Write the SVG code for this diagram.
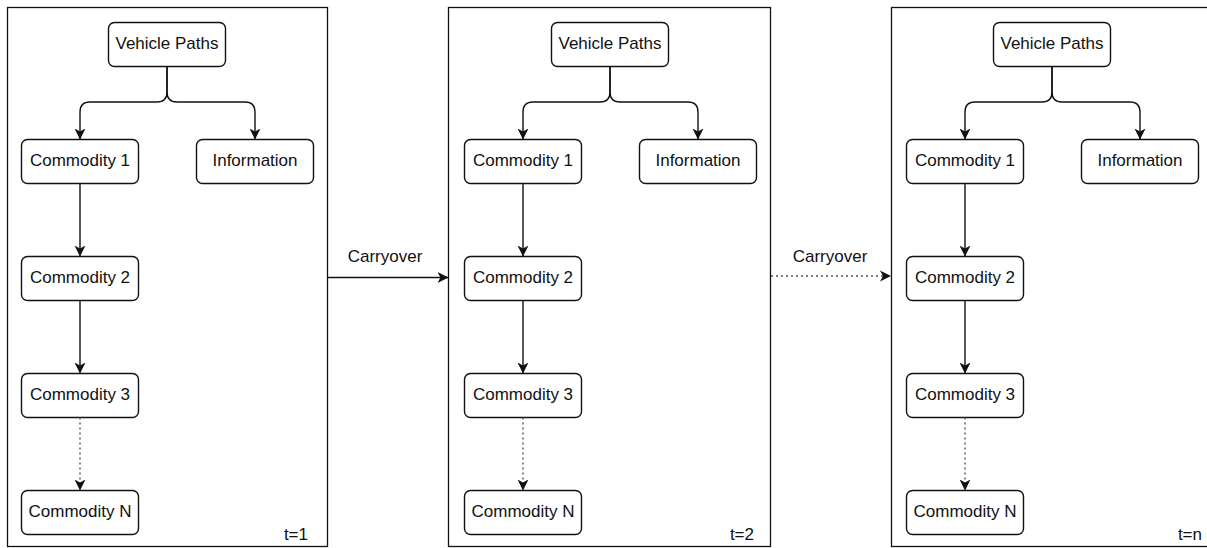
<svg xmlns="http://www.w3.org/2000/svg" width="1207" height="548" viewBox="0 0 1207 548">
  <defs>
    <style>
      .frame { fill: #fff; stroke: #111; stroke-width: 1.3; }
      .node rect { fill: #fff; stroke: #111; stroke-width: 1.4; }
      .label { font-family: "Liberation Sans", Arial, sans-serif; font-size: 17px; fill: #111; }
      .node text { text-anchor: middle; }
      .edge { fill: none; stroke: #111; stroke-width: 1.4; marker-end: url(#arrow); }
      .dotted { stroke: #555; stroke-dasharray: 2 3; }
    </style>
    <marker id="arrow" viewBox="0 0 11 12" refX="11" refY="6" markerWidth="11" markerHeight="12" markerUnits="userSpaceOnUse" orient="auto">
      <path d="M0,0.5 L11,6 L0,11.5 L3,6 Z" fill="#111"/>
    </marker>
  </defs>

  <rect width="1207" height="548" fill="#fff"/>

  <!-- time step t=1 -->
  <g id="step-1">
    <rect class="frame" x="7.5" y="7.5" width="320" height="539"/>
    <text class="label" x="308" y="540" text-anchor="end">t=1</text>
    <g id="s1-vehicle-paths" class="node"><rect x="108.5" y="22.5" width="117" height="44" rx="6"/><text class="label" x="167" y="48.5">Vehicle Paths</text></g>
    <g id="s1-commodity-1" class="node"><rect x="21.5" y="139.5" width="117" height="44" rx="6"/><text class="label" x="80" y="165.5">Commodity 1</text></g>
    <g id="s1-information" class="node"><rect x="196.5" y="139.5" width="117" height="44" rx="6"/><text class="label" x="255" y="165.5">Information</text></g>
    <g id="s1-commodity-2" class="node"><rect x="21.5" y="256.5" width="117" height="44" rx="6"/><text class="label" x="80" y="282.5">Commodity 2</text></g>
    <g id="s1-commodity-3" class="node"><rect x="21.5" y="373.5" width="117" height="44" rx="6"/><text class="label" x="80" y="399.5">Commodity 3</text></g>
    <g id="s1-commodity-n" class="node"><rect x="21.5" y="490.5" width="117" height="44" rx="6"/><text class="label" x="80" y="516.5">Commodity N</text></g>
    <g id="s1-connectors">
      <path class="edge" d="M167,66.5 V92 Q167,102 157,102 H90 Q80,102 80,112 V139.5"/>
      <path class="edge" d="M167,66.5 V92 Q167,102 177,102 H245 Q255,102 255,112 V139.5"/>
      <path class="edge" d="M80,183.5 V256.5"/>
      <path class="edge" d="M80,300.5 V373.5"/>
      <path class="edge dotted" d="M80,417.5 V490.5"/>
    </g>
  </g>

  <!-- time step t=2 -->
  <g id="step-2" transform="translate(443,0)">
    <rect class="frame" x="5.5" y="7.5" width="322" height="539"/>
    <text class="label" x="311" y="540" text-anchor="end">t=2</text>
    <g id="s2-vehicle-paths" class="node"><rect x="108.5" y="22.5" width="117" height="44" rx="6"/><text class="label" x="167" y="48.5">Vehicle Paths</text></g>
    <g id="s2-commodity-1" class="node"><rect x="21.5" y="139.5" width="117" height="44" rx="6"/><text class="label" x="80" y="165.5">Commodity 1</text></g>
    <g id="s2-information" class="node"><rect x="196.5" y="139.5" width="117" height="44" rx="6"/><text class="label" x="255" y="165.5">Information</text></g>
    <g id="s2-commodity-2" class="node"><rect x="21.5" y="256.5" width="117" height="44" rx="6"/><text class="label" x="80" y="282.5">Commodity 2</text></g>
    <g id="s2-commodity-3" class="node"><rect x="21.5" y="373.5" width="117" height="44" rx="6"/><text class="label" x="80" y="399.5">Commodity 3</text></g>
    <g id="s2-commodity-n" class="node"><rect x="21.5" y="490.5" width="117" height="44" rx="6"/><text class="label" x="80" y="516.5">Commodity N</text></g>
    <g id="s2-connectors">
      <path class="edge" d="M167,66.5 V92 Q167,102 157,102 H90 Q80,102 80,112 V139.5"/>
      <path class="edge" d="M167,66.5 V92 Q167,102 177,102 H245 Q255,102 255,112 V139.5"/>
      <path class="edge" d="M80,183.5 V256.5"/>
      <path class="edge" d="M80,300.5 V373.5"/>
      <path class="edge dotted" d="M80,417.5 V490.5"/>
    </g>
  </g>

  <!-- time step t=n (extends past the right edge) -->
  <g id="step-n" transform="translate(885,0)">
    <rect class="frame" x="6.5" y="7.5" width="340" height="539"/>
    <text class="label" x="317" y="540" text-anchor="end">t=n</text>
    <g id="sn-vehicle-paths" class="node"><rect x="108.5" y="22.5" width="117" height="44" rx="6"/><text class="label" x="167" y="48.5">Vehicle Paths</text></g>
    <g id="sn-commodity-1" class="node"><rect x="21.5" y="139.5" width="117" height="44" rx="6"/><text class="label" x="80" y="165.5">Commodity 1</text></g>
    <g id="sn-information" class="node"><rect x="196.5" y="139.5" width="117" height="44" rx="6"/><text class="label" x="255" y="165.5">Information</text></g>
    <g id="sn-commodity-2" class="node"><rect x="21.5" y="256.5" width="117" height="44" rx="6"/><text class="label" x="80" y="282.5">Commodity 2</text></g>
    <g id="sn-commodity-3" class="node"><rect x="21.5" y="373.5" width="117" height="44" rx="6"/><text class="label" x="80" y="399.5">Commodity 3</text></g>
    <g id="sn-commodity-n" class="node"><rect x="21.5" y="490.5" width="117" height="44" rx="6"/><text class="label" x="80" y="516.5">Commodity N</text></g>
    <g id="sn-connectors">
      <path class="edge" d="M167,66.5 V92 Q167,102 157,102 H90 Q80,102 80,112 V139.5"/>
      <path class="edge" d="M167,66.5 V92 Q167,102 177,102 H245 Q255,102 255,112 V139.5"/>
      <path class="edge" d="M80,183.5 V256.5"/>
      <path class="edge" d="M80,300.5 V373.5"/>
      <path class="edge dotted" d="M80,417.5 V490.5"/>
    </g>
  </g>

  <!-- carryover between time steps -->
  <g id="carryover-connectors">
    <path class="edge" d="M328,277.5 H448.5"/>
    <text class="label" x="385" y="262" text-anchor="middle">Carryover</text>
    <path class="edge dotted" d="M771,276 H891"/>
    <text class="label" x="830" y="262" text-anchor="middle">Carryover</text>
  </g>
</svg>
